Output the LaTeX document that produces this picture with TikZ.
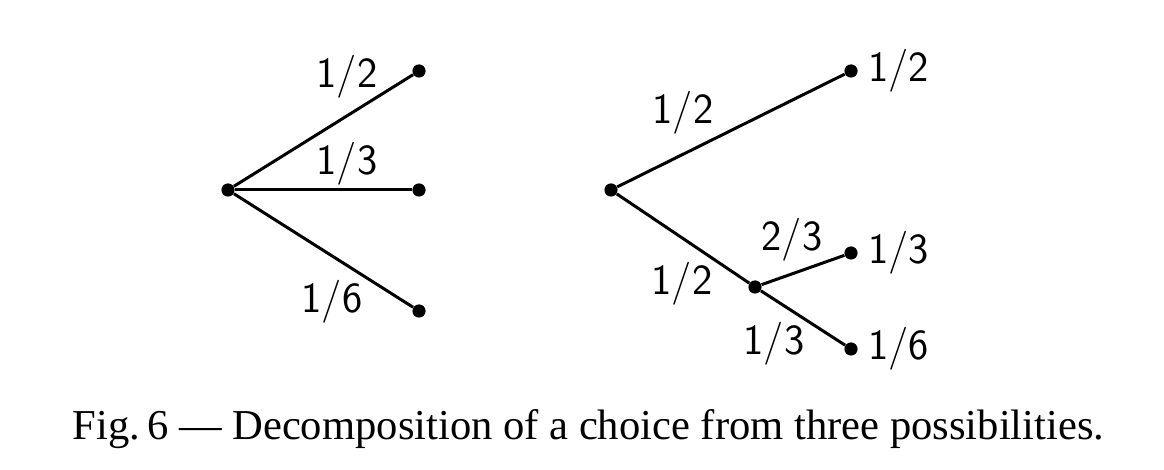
\documentclass[tikz,border=0pt]{standalone}
\usepackage{fontspec}
\setmainfont{Liberation Serif}
\usepackage{tikz}
\usetikzlibrary{positioning}
\tikzstyle{dot}=[circle,fill=black,inner sep=0,minimum size=6.6pt]
\tikzstyle{prob}=[inner sep=0,font=\sffamily\fontsize{21.5}{25}\selectfont]
\def\leafsep{5pt}

\begin{document}
\begin{tikzpicture}[
	x=0.5pt, y=-0.5pt,
	branch/.style={line width=1.5pt},
	]
	\useasboundingbox (0,0) rectangle (1164,470);
	
	% left tree
	\node[dot] (l0) at (228,190) {};
	\foreach \n/\y in {a/71,b/190,c/311}
	\node[dot] (l\n) at (419,\y) {};
	
	\foreach \n in {a,b,c}
	\draw[branch] (l0) -- (l\n);
	
	\node[prob] (pla) at (347,77) {1/2};
	\node[prob] (plb) at (347,164) {1/3};
	\node[prob] (plc) at (332,302) {1/6};
	
	% right tree
	\node[dot] (r0) at (611,190) {};
	\node[dot] (rm) at (755,287) {};
	\node[dot] (ra) at (851,71) {};
	\node[dot] (rb) at (851,253) {};
	\node[dot] (rc) at (851,349) {};
	
	\draw[branch] (r0) -- (ra);
	\draw[branch] (r0) -- (rm);
	\draw[branch] (rm) -- (rb);
	\draw[branch] (rm) -- (rc);
	
	\node[prob] (pra) at (683,113) {1/2};
	\node[prob] (prm) at (682,284) {1/2};
	\node[prob] (prb) at (792,240) {2/3};
	\node[prob] (prc) at (774,344) {1/3};
	
	\node[prob, right=\leafsep of ra] (qa) {1/2};
	\node[prob, right=\leafsep of rb] (qb) {1/3};
	\node[prob, right=\leafsep of rc] (qc) {1/6};
	
	% caption
	\node[anchor=base, inner sep=0, font=\fontsize{21.3}{25}\selectfont] (cap) at (588.5,440)
	{Fig.\,6 --- Decomposition of a choice from three possibilities.};
	
\end{tikzpicture}
\end{document}
